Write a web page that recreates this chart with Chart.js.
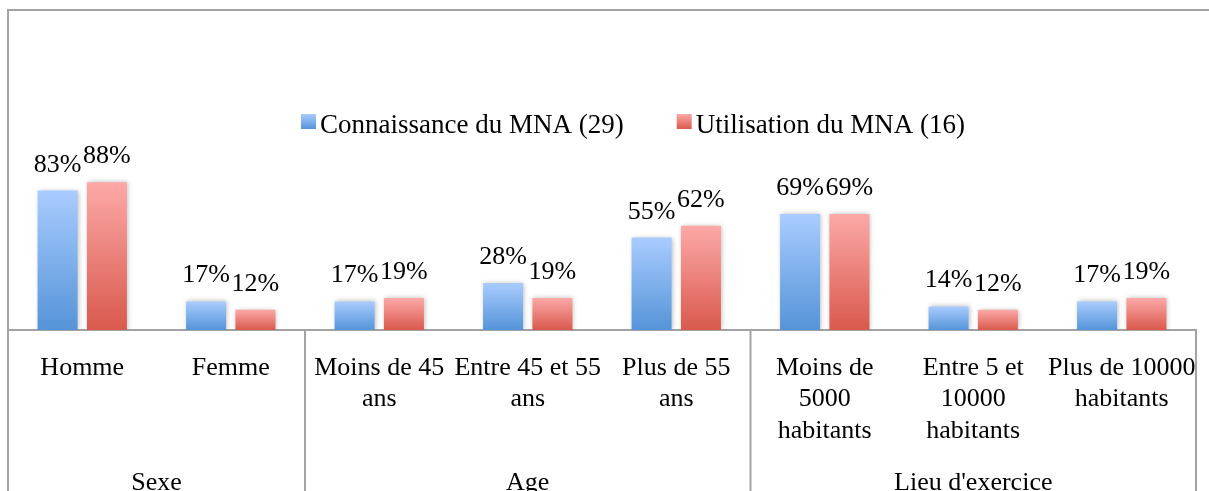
<!DOCTYPE html>
<html>
<head>
<meta charset="utf-8">
<script src="https://cdn.jsdelivr.net/npm/chart.js@4/dist/chart.umd.min.js"></script>
<style>
  html, body { margin: 0; padding: 0; background: #ffffff; }
  #wrap { position: relative; width: 1209px; height: 491px; overflow: hidden; }
  #frame { position: absolute; left: 7px; top: 9px; width: 1300px; height: 600px; border: 2px solid #a3a3a3; box-sizing: border-box; }
  #c { position: absolute; left: 0; top: 0; }
</style>
</head>
<body>
<div id="wrap">
  <div id="frame"></div>
  <canvas id="c" width="1209" height="491"></canvas>
</div>
<script>
// ---- data ----
const categoryLabels = [
  ['Homme'],
  ['Femme'],
  ['Moins de 45', 'ans'],
  ['Entre 45 et 55', 'ans'],
  ['Plus de 55', 'ans'],
  ['Moins de', '5000', 'habitants'],
  ['Entre 5 et', '10000', 'habitants'],
  ['Plus de 10000', 'habitants']
];
const groupLabels = ['Sexe', 'Age', "Lieu d'exercice"];
const groupSizes = [2, 3, 3];
const seriesNames = ['Connaissance du MNA (29)', 'Utilisation du MNA (16)'];
const connaissance = [83, 17, 17, 28, 55, 69, 14, 17];
const utilisation = [88, 12, 19, 19, 62, 69, 12, 19];

// ---- styles ----
const FONT = '"Liberation Serif", "Times New Roman", serif';
const blueStops = ['#a9ccff', '#5594d8'];
const redStops = ['#fca9a7', '#d9594d'];

function barGradient(stops) {
  return function (ctx) {
    const chart = ctx.chart;
    if (!chart.chartArea || !chart.scales.y) return stops[1];
    const y = chart.scales.y;
    const top = y.getPixelForValue(ctx.raw);
    const bottom = y.getPixelForValue(0);
    if (!isFinite(top) || !isFinite(bottom) || top === bottom) return stops[1];
    const g = chart.ctx.createLinearGradient(0, top, 0, bottom);
    g.addColorStop(0, stops[0]);
    g.addColorStop(1, stops[1]);
    return g;
  };
}

const decor = {
  id: 'decor',
  beforeDatasetsDraw(chart) {
    const ctx = chart.ctx;
    ctx.save();
    ctx.shadowColor = 'rgba(0,0,0,0.28)';
    ctx.shadowBlur = 5;
    ctx.shadowOffsetX = 1;
    ctx.shadowOffsetY = 0;
  },
  afterDatasetsDraw(chart) {
    chart.ctx.restore();
  },
  afterDraw(chart) {
    const ctx = chart.ctx;
    const xs = chart.scales.x;
    const area = chart.chartArea;
    const H = chart.height;
    const half = (xs.getPixelForValue(1) - xs.getPixelForValue(0)) / 2;

    // group separators and group labels
    ctx.save();
    ctx.strokeStyle = '#a3a3a3';
    ctx.lineWidth = 2;
    let idx = 0;
    ctx.font = '26px ' + FONT;
    ctx.fillStyle = '#000';
    ctx.textAlign = 'center';
    ctx.textBaseline = 'alphabetic';
    const bounds = [xs.getPixelForValue(0) - half];
    groupSizes.forEach((n, gi) => {
      const left = xs.getPixelForValue(idx) - half;
      const right = xs.getPixelForValue(idx + n - 1) + half;
      bounds.push(right);
      ctx.fillText(groupLabels[gi], (left + right) / 2, 490);
      idx += n;
    });
    bounds.forEach(b => {
      ctx.beginPath();
      ctx.moveTo(b, area.bottom);
      ctx.lineTo(b, H);
      ctx.stroke();
    });

    // value labels
    chart.data.datasets.forEach((ds, di) => {
      const meta = chart.getDatasetMeta(di);
      meta.data.forEach((bar, i) => {
        ctx.fillText(ds.data[i] + '%', bar.x, bar.y - 19);
      });
    });

    // legend
    ctx.font = '27px ' + FONT;
    ctx.textAlign = 'left';
    let lx = 301;
    const boxTop = 114, box = 15, baseline = 133;
    chart.data.datasets.forEach((ds, di) => {
      const stops = di === 0 ? blueStops : redStops;
      const g = ctx.createLinearGradient(0, boxTop, 0, boxTop + box);
      g.addColorStop(0, stops[0]);
      g.addColorStop(1, stops[1]);
      ctx.fillStyle = g;
      ctx.fillRect(lx, boxTop, box, box);
      ctx.fillStyle = '#000';
      ctx.fillText(ds.label, lx + box + 4, baseline);
      lx += box + 4 + ctx.measureText(ds.label).width + 53;
    });
    ctx.restore();
  }
};

new Chart(document.getElementById('c'), {
  type: 'bar',
  data: {
    labels: categoryLabels,
    datasets: [
      { label: seriesNames[0], data: connaissance, backgroundColor: barGradient(blueStops), borderWidth: 0 },
      { label: seriesNames[1], data: utilisation, backgroundColor: barGradient(redStops), borderWidth: 0 }
    ]
  },
  options: {
    responsive: false,
    animation: false,
    events: [],
    devicePixelRatio: 1,
    layout: { padding: { top: 162, left: 8, right: 13, bottom: 0 } },
    datasets: { bar: { categoryPercentage: 0.665, barPercentage: 0.81 } },
    plugins: { legend: { display: false }, tooltip: { enabled: false } },
    scales: {
      y: { display: false, min: 0, max: 100 },
      x: {
        grid: { display: false, drawTicks: false },
        border: { display: true, color: '#a3a3a3', width: 2 },
        ticks: {
          color: '#000',
          font: { family: FONT, size: 26, lineHeight: 1.22 },
          padding: 22,
          maxRotation: 0,
          minRotation: 0,
          autoSkip: false
        },
        afterFit(scale) {
          scale.height = 161;
          scale.paddingLeft = 0;
          scale.paddingRight = 0;
        }
      }
    }
  },
  plugins: [decor]
});
</script>
</body>
</html>
